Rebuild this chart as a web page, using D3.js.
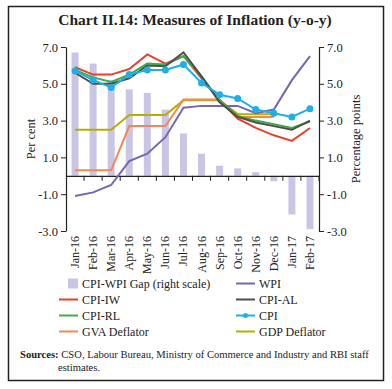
<!DOCTYPE html>
<html>
<head>
<meta charset="utf-8">
<script src="https://cdn.jsdelivr.net/npm/d3@7"></script>
<style>
  body { margin: 0; background: #fff; }
  svg text { font-family: "Liberation Serif", "DejaVu Serif", serif; fill: #222; }
</style>
</head>
<body>
<div id="chart"></div>
<script>
// months on the x axis
let months = ["Jan-16", "Feb-16", "Mar-16", "Apr-16", "May-16", "Jun-16", "Jul-16",
              "Aug-16", "Sep-16", "Oct-16", "Nov-16", "Dec-16", "Jan-17", "Feb-17"];

// series (per cent, y-o-y)
let gap     = [6.7, 6.1, 5.2, 4.7, 4.5, 3.6, 2.3, 1.2, 0.55, 0.4, 0.2, -0.3, -2.1, -2.9];
let wpi     = [-1.1, -0.9, -0.5, 0.8, 1.2, 2.1, 3.7, 3.8, 3.8, 3.8, 3.4, 3.6, 5.2, 6.5];
let cpiIW   = [5.9, 5.5, 5.5, 5.8, 6.6, 6.1, 6.5, 5.3, 4.1, 3.1, 2.6, 2.2, 1.9, 2.6];
let cpiAL   = [5.6, 5.0, 5.0, 5.3, 6.0, 5.95, 6.7, 5.4, 4.0, 3.2, 2.9, 2.7, 2.5, 3.0];
let cpiRL   = [5.75, 5.35, 5.1, 5.5, 6.1, 6.05, 6.5, 5.4, 4.1, 3.25, 3.0, 2.8, 2.6, 2.95];
let cpi     = [5.7, 5.2, 4.8, 5.5, 5.75, 5.75, 6.05, 5.05, 4.4, 4.2, 3.6, 3.4, 3.2, 3.65];
let gva     = [0.3, 0.3, 0.3, 2.7, 2.7, 2.7, 4.15, 4.15, 4.15, 3.2, 3.2, 3.2, null, null];
let gdp     = [2.5, 2.5, 2.5, 3.3, 3.3, 3.3, 4.1, 4.1, 4.1, 3.35, 3.35, 3.35, null, null];

// tick labels
let yTicks = [7, 5, 3, 1, -1, -3];

let width = 392, height = 389;
let margin = { top: 47, right: 73, bottom: 158, left: 66 };
let chartWidth = width - margin.left - margin.right;
let chartHeight = height - margin.top - margin.bottom;

let svg = d3.select("#chart").append("svg")
    .attr("width", width)
    .attr("height", height);

// outer frame
svg.append("rect")
    .attr("x", 8.5).attr("y", 6.5)
    .attr("width", 375).attr("height", 374)
    .attr("fill", "none").attr("stroke", "#222").attr("stroke-width", 1.5);

// title
svg.append("text")
    .attr("x", 195).attr("y", 25)
    .attr("text-anchor", "middle")
    .style("font-size", "15.5px").style("font-weight", "bold")
    .text("Chart II.14: Measures of Inflation (y-o-y)");

let chartGroup = svg.append("g").attr("transform", `translate(${margin.left}, ${margin.top})`);

let xScale = d3.scaleBand().domain(months).range([0, chartWidth]);
let yScale = d3.scaleLinear().domain([-3, 7]).range([chartHeight, 0]);
let yRight = d3.scaleLinear().domain([-3, 7]).range([chartHeight, 0]);

// bars (right scale)
chartGroup.selectAll(".bar")
    .data(gap)
    .enter()
    .append("rect")
    .attr("x", (d, i) => xScale(months[i]) + xScale.bandwidth() / 2 - 3.5)
    .attr("width", 7)
    .attr("y", d => yRight(Math.max(0, d)))
    .attr("height", d => Math.abs(yRight(d) - yRight(0)))
    .attr("fill", "#c9c5e5");

// plain hyphen for negatives, like the original
let fmt = d => d.toFixed(1);

// left axis
let yAxis = d3.axisLeft(yScale).tickValues(yTicks).tickFormat(fmt).tickSize(5).tickSizeOuter(0);
let gl = chartGroup.append("g").call(yAxis);
// right axis
let yAxisR = d3.axisRight(yRight).tickValues(yTicks).tickFormat(fmt).tickSize(5).tickSizeOuter(0);
let gr = chartGroup.append("g").attr("transform", `translate(${chartWidth}, 0)`).call(yAxisR);

[gl, gr].forEach(g => {
    g.selectAll("text").style("font-size", "12.5px").style("font-family", "Liberation Serif, serif");
    g.selectAll("line, path").attr("stroke", "#222");
    g.select(".domain").attr("stroke-width", 1.2);
});
gl.selectAll("text").attr("x", -8);
gr.selectAll("text").attr("x", 8);

// x axis along zero line
let xAxis = d3.axisBottom(xScale).tickSize(0).tickFormat("");
let gx = chartGroup.append("g").attr("transform", `translate(0, ${yScale(0)})`).call(xAxis);
gx.select(".domain").attr("stroke", "#222").attr("stroke-width", 1.2);
chartGroup.selectAll(".xtick")
    .data(months)
    .enter()
    .append("line")
    .attr("x1", d => xScale(d) + xScale.bandwidth())
    .attr("x2", d => xScale(d) + xScale.bandwidth())
    .attr("y1", yScale(0)).attr("y2", yScale(0) + 5)
    .attr("stroke", "#222");

// month labels at bottom
chartGroup.selectAll(".xlabel")
    .data(months)
    .enter()
    .append("text")
    .attr("transform", d => `translate(${xScale(d) + xScale.bandwidth() / 2 + 4}, ${chartHeight + 5}) rotate(-90)`)
    .attr("text-anchor", "end")
    .style("font-size", "12px")
    .text(d => d);

// axis titles
svg.append("text")
    .attr("transform", `translate(35, ${margin.top + chartHeight / 2}) rotate(-90)`)
    .attr("text-anchor", "middle")
    .style("font-size", "12.5px")
    .text("Per cent");
svg.append("text")
    .attr("transform", `translate(360, ${margin.top + chartHeight / 2}) rotate(-90)`)
    .attr("text-anchor", "middle")
    .style("font-size", "12.5px")
    .text("Percentage points");

// lines
let series = [
    { name: "GDP Deflator", values: gdp, color: "#b5b000" },
    { name: "GVA Deflator", values: gva, color: "#f7874f" },
    { name: "WPI", values: wpi, color: "#7467b4" },
    { name: "CPI-IW", values: cpiIW, color: "#e8402a" },
    { name: "CPI-RL", values: cpiRL, color: "#3cae48" },
    { name: "CPI-AL", values: cpiAL, color: "#4d4d4d" },
    { name: "CPI", values: cpi, color: "#1eaee8", dots: true }
];

let line = d3.line()
    .defined(d => d != null)
    .x((d, i) => xScale(months[i]) + xScale.bandwidth() / 2)
    .y(d => yScale(d));

series.forEach(s => {
    chartGroup.append("path")
        .datum(s.values)
        .attr("d", line)
        .attr("fill", "none")
        .attr("stroke", s.color)
        .attr("stroke-width", 2);
    if (s.dots) {
        chartGroup.selectAll(".dot")
            .data(s.values)
            .enter()
            .append("circle")
            .attr("cx", (d, i) => xScale(months[i]) + xScale.bandwidth() / 2)
            .attr("cy", d => yScale(d))
            .attr("r", 3.5)
            .attr("fill", s.color);
    }
});

// legend
let legendItems = [
    { name: "CPI-WPI Gap (right scale)", color: "#c9c5e5", type: "bar", col: 0, row: 0 },
    { name: "CPI-IW", color: "#e8402a", col: 0, row: 1 },
    { name: "CPI-RL", color: "#3cae48", col: 0, row: 2 },
    { name: "GVA Deflator", color: "#f7874f", col: 0, row: 3 },
    { name: "WPI", color: "#7467b4", col: 1, row: 0 },
    { name: "CPI-AL", color: "#4d4d4d", col: 1, row: 1 },
    { name: "CPI", color: "#1eaee8", dots: true, col: 1, row: 2 },
    { name: "GDP Deflator", color: "#b5b000", col: 1, row: 3 }
];
let colX = [59, 236];
legendItems.forEach(it => {
    let x = colX[it.col];
    let y = 283.5 + it.row * 16;
    let g = svg.append("g");
    if (it.type === "bar") {
        g.append("rect").attr("x", x + 9).attr("y", y - 5).attr("width", 10).attr("height", 10).attr("fill", it.color);
    } else {
        g.append("line").attr("x1", x).attr("x2", x + 19).attr("y1", y).attr("y2", y)
            .attr("stroke", it.color).attr("stroke-width", 2);
        if (it.dots) g.append("circle").attr("cx", x + 9.5).attr("cy", y).attr("r", 2.5).attr("fill", it.color);
    }
    g.append("text").attr("x", x + 23).attr("y", y + 4)
        .style("font-size", "12px").text(it.name);
});

// sources note
let note = svg.append("text").attr("x", 20).attr("y", 358).style("font-size", "10.6px");
note.append("tspan").style("font-weight", "bold").text("Sources:");
note.append("tspan").text(" CSO, Labour Bureau, Ministry of Commerce and Industry and RBI staff");
svg.append("text").attr("x", 58).attr("y", 371).style("font-size", "10.6px").text("estimates.");
</script>
</body>
</html>
